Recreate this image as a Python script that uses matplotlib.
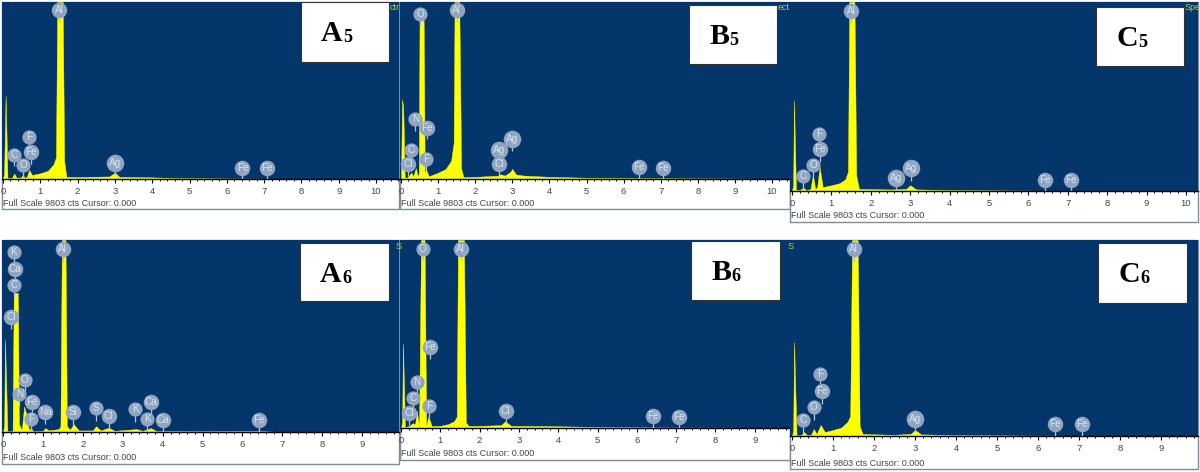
import matplotlib
matplotlib.use("Agg")
import matplotlib.pyplot as plt
from matplotlib.patches import Rectangle

# ---------- spectra (keV, counts) ----------
a5_kev = [0, .03, .07, .12, .24, .30, .36, .48, .53, .58, .64, .70, .78, 1.0, 1.2, 1.35, 1.42, 1.455, 1.6, 1.64, 1.7, 2.0, 2.85, 3.0, 3.12, 4.0, 4.7, 6.0, 7.2, 8.0]
a5_cts = [0, 300, 4600, 60, 60, 300, 80, 80, 220, 80, 120, 500, 220, 320, 450, 800, 1200, 9803, 9803, 1000, 120, 110, 140, 350, 120, 90, 50, 30, 15, 0]
b5_kev = [0, .03, .06, .1, .16, .22, .28, .33, .40, .45, .48, .50, .61, .64, .68, .75, 1.0, 1.2, 1.35, 1.42, 1.445, 1.57, 1.62, 1.68, 2.0, 2.6, 2.68, 2.8, 2.95, 3.0, 3.1, 3.3, 4.0, 5.0, 7.0, 9.0, 10.4]
b5_cts = [0, 4400, 4000, 80, 80, 200, 350, 150, 600, 150, 300, 8800, 8800, 300, 500, 150, 350, 550, 1000, 2000, 9803, 9803, 600, 110, 120, 180, 260, 190, 400, 560, 250, 190, 120, 70, 40, 25, 0]
c5_kev = [0, .03, .05, .1, .2, .29, .36, .47, .53, .59, .64, .70, .78, 1.0, 1.2, 1.35, 1.42, 1.455, 1.585, 1.63, 1.7, 2.5, 2.9, 3.0, 3.15, 4.0, 6.0, 8.0]
c5_cts = [0, 300, 4700, 60, 60, 170, 50, 100, 850, 100, 200, 1250, 200, 300, 400, 600, 1000, 9803, 9803, 800, 110, 80, 110, 300, 85, 50, 20, 0]
a6_kev = [0, .03, .05, .11, .24, .27, .37, .40, .47, .53, .60, .65, .70, .76, 1.0, 1.06, 1.15, 1.4, 1.44, 1.475, 1.565, 1.6, 1.68, 1.77, 1.9, 2.25, 2.33, 2.45, 2.65, 2.8, 3.35, 3.5, 3.7, 3.85, 5.0, 6.4, 7.0]
a6_cts = [0, 300, 4700, 40, 40, 7100, 7100, 400, 100, 1300, 800, 100, 200, 40, 60, 200, 80, 150, 300, 9803, 9803, 300, 120, 400, 80, 80, 300, 80, 220, 60, 150, 60, 200, 50, 40, 50, 0]
b6_kev = [0, .03, .05, .1, .2, .3, .36, .40, .46, .51, .60, .64, .70, .78, 1.0, 1.2, 1.35, 1.42, 1.45, 1.60, 1.65, 1.72, 2.0, 2.55, 2.65, 2.8, 3.7, 5.0, 7.0, 9.0, 9.9]
b6_cts = [0, 300, 4400, 50, 100, 250, 200, 900, 100, 9803, 9803, 100, 600, 100, 110, 200, 350, 600, 9803, 9803, 300, 110, 110, 150, 350, 110, 100, 55, 25, 15, 0]
c6_kev = [0, .03, .05, .11, .22, .29, .38, .47, .53, .60, .70, .80, 1.0, 1.2, 1.35, 1.42, 1.465, 1.6, 1.65, 1.72, 2.5, 2.9, 3.0, 3.15, 4.0, 6.0, 7.5, 8.0]
c6_cts = [0, 300, 4700, 40, 40, 200, 30, 80, 350, 100, 550, 200, 300, 420, 700, 1000, 9803, 9803, 500, 100, 60, 110, 300, 80, 50, 20, 10, 0]

# ---------- element tags (name, keV, counts) ----------
a5_tags = ["Al", "F", "Fe", "C", "O", "Ag", "Fe", "Fe"]
a5_tag_kev = [1.51, .71, .74, .30, .54, 3.01, 6.42, 7.07]
a5_tag_cts = [9340, 2340, 1490, 1345, 775, 865, 590, 590]
b5_tags = ["O", "Al", "N", "Fe", "C", "Cl", "F", "Ag", "Ag", "Cl", "Fe", "Fe"]
b5_tag_kev = [.52, 1.50, .39, .71, .28, .19, .68, 2.64, 3.0, 2.64, 6.41, 7.07]
b5_tag_cts = [9140, 9340, 3315, 2840, 1620, 810, 1105, 1620, 2190, 810, 680, 625]
c5_tags = ["Al", "F", "Fe", "O", "C", "Ag", "Ag", "Fe", "Fe"]
c5_tag_kev = [1.50, .69, .72, .53, .29, 2.65, 3.01, 6.43, 7.08]
c5_tag_cts = [9325, 2975, 2160, 1365, 760, 655, 1175, 590, 590]
a6_tags = ["K", "Ca", "C", "Cl", "Al", "O", "N", "Fe", "F", "Na", "Si", "S", "Cl", "K", "K", "Ca", "Ca", "Fe"]
a6_tag_kev = [.27, .30, .28, .21, 1.50, .54, .41, .73, .70, 1.06, 1.76, 2.33, 2.65, 3.31, 3.61, 3.70, 4.01, 6.42]
a6_tag_cts = [9170, 8340, 7485, 5880, 9340, 2675, 1960, 1520, 665, 1040, 1005, 1210, 800, 1175, 665, 1520, 630, 630]
b6_tags = ["O", "Al", "Fe", "N", "C", "Cl", "F", "Cl", "Fe", "Fe"]
b6_tag_kev = [.55, 1.52, .73, .41, .30, .21, .71, 2.66, 6.42, 7.08]
b6_tag_cts = [9330, 9350, 4230, 2400, 1565, 785, 1165, 905, 625, 590]
c6_tags = ["Al", "F", "Fe", "O", "C", "Ag", "Fe", "Fe"]
c6_tag_kev = [1.50, .69, .72, .53, .28, 3.01, 6.42, 7.07]
c6_tag_cts = [9350, 3085, 2250, 1450, 815, 850, 615, 585]

footer = "Full Scale 9803 cts Cursor: 0.000"
full_scale = 9803

W, H = 1200, 472
BG = "#04356b"
YEL = "#ffff00"
TAG = "#8fa5c2"

fig = plt.figure(figsize=(W / 100, H / 100), dpi=100, facecolor="white")
plt.rcParams["font.family"] = ["Liberation Sans", "DejaVu Sans"]


def panel(kev, cts, tags, tkev, tcts, letter, sub, corner, left, right, top, bottom, strip, x0, scale, box, cx):
    fig.add_artist(Rectangle((left / W, 1 - strip / H), (right - left) / W, (strip - top) / H,
                             transform=fig.transFigure, fc="white", ec="#7f8b98", lw=1))
    ax = fig.add_axes([left / W, 1 - bottom / H, (right - left) / W, (bottom - top) / H], zorder=2)
    ax.set_facecolor(BG)
    ax.set_xlim((left - x0) / scale, (right - x0) / scale)
    ax.set_ylim(0, full_scale)
    ax.fill_between(kev, cts, 0, color=YEL, lw=0.3)
    for s in ("top", "left", "right"):
        ax.spines[s].set_visible(False)
    ax.spines["bottom"].set_color("black")
    ax.spines["bottom"].set_linewidth(1)
    ax.set_yticks([])
    lo, hi = ax.get_xlim()
    ax.set_xticks([i for i in range(0, 12) if lo <= i <= hi])
    ax.set_xticks([i * 0.2 for i in range(0, 60) if lo <= i * 0.2 <= hi], minor=True)
    ax.tick_params(axis="x", which="major", length=3.2, width=0.8, labelsize=6.8,
                   labelcolor="#444444", pad=2.5)
    ax.tick_params(axis="x", which="minor", length=1.6, width=0.7)
    for n, x, y in zip(tags, tkev, tcts):
        ax.vlines(x, y - 640, y, color="#b5c3d6", lw=0.9, zorder=3)
        size = 160 if n == "Ag" else (125 if len(n) == 2 else 105)
        ax.scatter([x], [y], s=size, color=TAG, lw=0, zorder=4, clip_on=False)
        ax.text(x, y, n, ha="center", va="center", fontsize=7.2, color="#dbe3ee", zorder=5)
    fig.text((left + 1) / W, 1 - (strip - 6) / H, footer, fontsize=6.5, color="#444444",
             va="center", ha="left", zorder=6)
    if corner:
        fig.text(cx / W, 1 - (top + 6) / H, corner, fontsize=6.5, color="#b6d23c",
                 va="center", ha="left", zorder=3)
    bx0, bx1, by0, by1 = box
    fig.add_artist(Rectangle((bx0 / W, 1 - by1 / H), (bx1 - bx0) / W, (by1 - by0) / H,
                             transform=fig.transFigure, fc="white", ec="#333333", lw=0.8, zorder=10))
    t = fig.text((bx0 + 20) / W, 1 - (by0 + 39) / H, letter, fontsize=21.5, fontweight="bold",
                 family="Liberation Serif", color="black", va="baseline", ha="left", zorder=11)
    fig.canvas.draw()
    ext = t.get_window_extent()
    fig.text((ext.x1 + 0.5) / W, 1 - (by0 + 40) / H, sub, fontsize=13, fontweight="bold",
             family="Liberation Serif", color="black", va="baseline", ha="left", zorder=11)


panel(a5_kev, a5_cts, a5_tags, a5_tag_kev, a5_tag_cts, "A", "5", "ctr",
      2, 399, 2, 179, 209, 3, 37.3, (301, 389, 2, 62), 389.5)
panel(b5_kev, b5_cts, b5_tags, b5_tag_kev, b5_tag_cts, "B", "5", "ect",
      400, 790, 2, 179, 209, 401, 37.1, (689, 777, 5, 64), 778)
panel(c5_kev, c5_cts, c5_tags, c5_tag_kev, c5_tag_cts, "C", "5", "Spe",
      790, 1198, 2, 191, 222, 792, 39.4, (1096, 1184, 7, 66), 1184.5)
panel(a6_kev, a6_cts, a6_tags, a6_tag_kev, a6_tag_cts, "A", "6", "S",
      2, 399, 240, 432, 464, 3, 39.9, (300, 389, 243, 301), 396)
panel(b6_kev, b6_cts, b6_tags, b6_tag_kev, b6_tag_cts, "B", "6", "S",
      400, 790, 240, 428, 460, 401, 39.3, (691, 780, 241, 300), 788)
panel(c6_kev, c6_cts, c6_tags, c6_tag_kev, c6_tag_cts, "C", "6", "",
      790, 1198, 240, 436, 469, 792, 41.0, (1098, 1187, 243, 303), 1190)

fig.savefig("out.png", dpi=100, facecolor="white")
